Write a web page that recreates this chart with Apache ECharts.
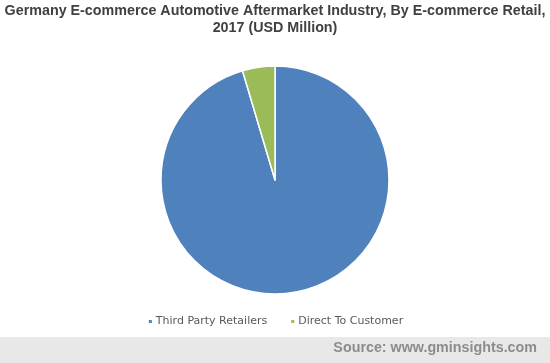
<!DOCTYPE html>
<html><head><meta charset="utf-8">
<script src="https://cdn.jsdelivr.net/npm/echarts@6/dist/echarts.min.js"></script>
<style>html,body{margin:0;padding:0;background:#fff}#c{width:550px;height:363px}</style>
</head><body><div id="c"></div>
<script>
var categories = ['Third Party Retailers', 'Direct To Customer'];
var values = [95.4, 4.6];
var colors = ['#4f81bd', '#9bbb59'];

var chart = echarts.init(document.getElementById('c'));
chart.setOption({
  animation: false,
  title: {
    text: 'Germany E-commerce Automotive Aftermarket Industry, By E-commerce Retail,\n2017 (USD Million)',
    left: 'center', top: -2,
    textStyle: {fontFamily: 'Liberation Sans', fontWeight: 'bold', fontSize: 14.3, color: '#404040', lineHeight: 17}
  },
  graphic: [
    {type: 'rect', shape: {x: 0, y: 337, width: 550, height: 26}, style: {fill: '#e8e8e8'}, silent: true},
    {type: 'text', right: 13, top: 341, style: {text: 'Source: www.gminsights.com', font: 'bold 14.3px "Liberation Sans"', fill: '#8c8c8c'}}
  ],
  legend: {
    top: 311, left: 'center', icon: 'rect', itemWidth: 5, itemHeight: 5, itemGap: 22,
    textStyle: {fontFamily: 'DejaVu Sans', fontSize: 11, color: '#595959', padding: [0,0,0,-2]},
    data: categories
  },
  series: [{
    type: 'pie', center: [275, 180], radius: 114, startAngle: 90, clockwise: true,
    label: {show: false}, labelLine: {show: false},
    itemStyle: {borderColor: '#fff', borderWidth: 1.5},
    emphasis: {disabled: true},
    data: categories.map(function (c, i) { return {name: c, value: values[i], itemStyle: {color: colors[i]}}; })
  }]
});
</script></body></html>
